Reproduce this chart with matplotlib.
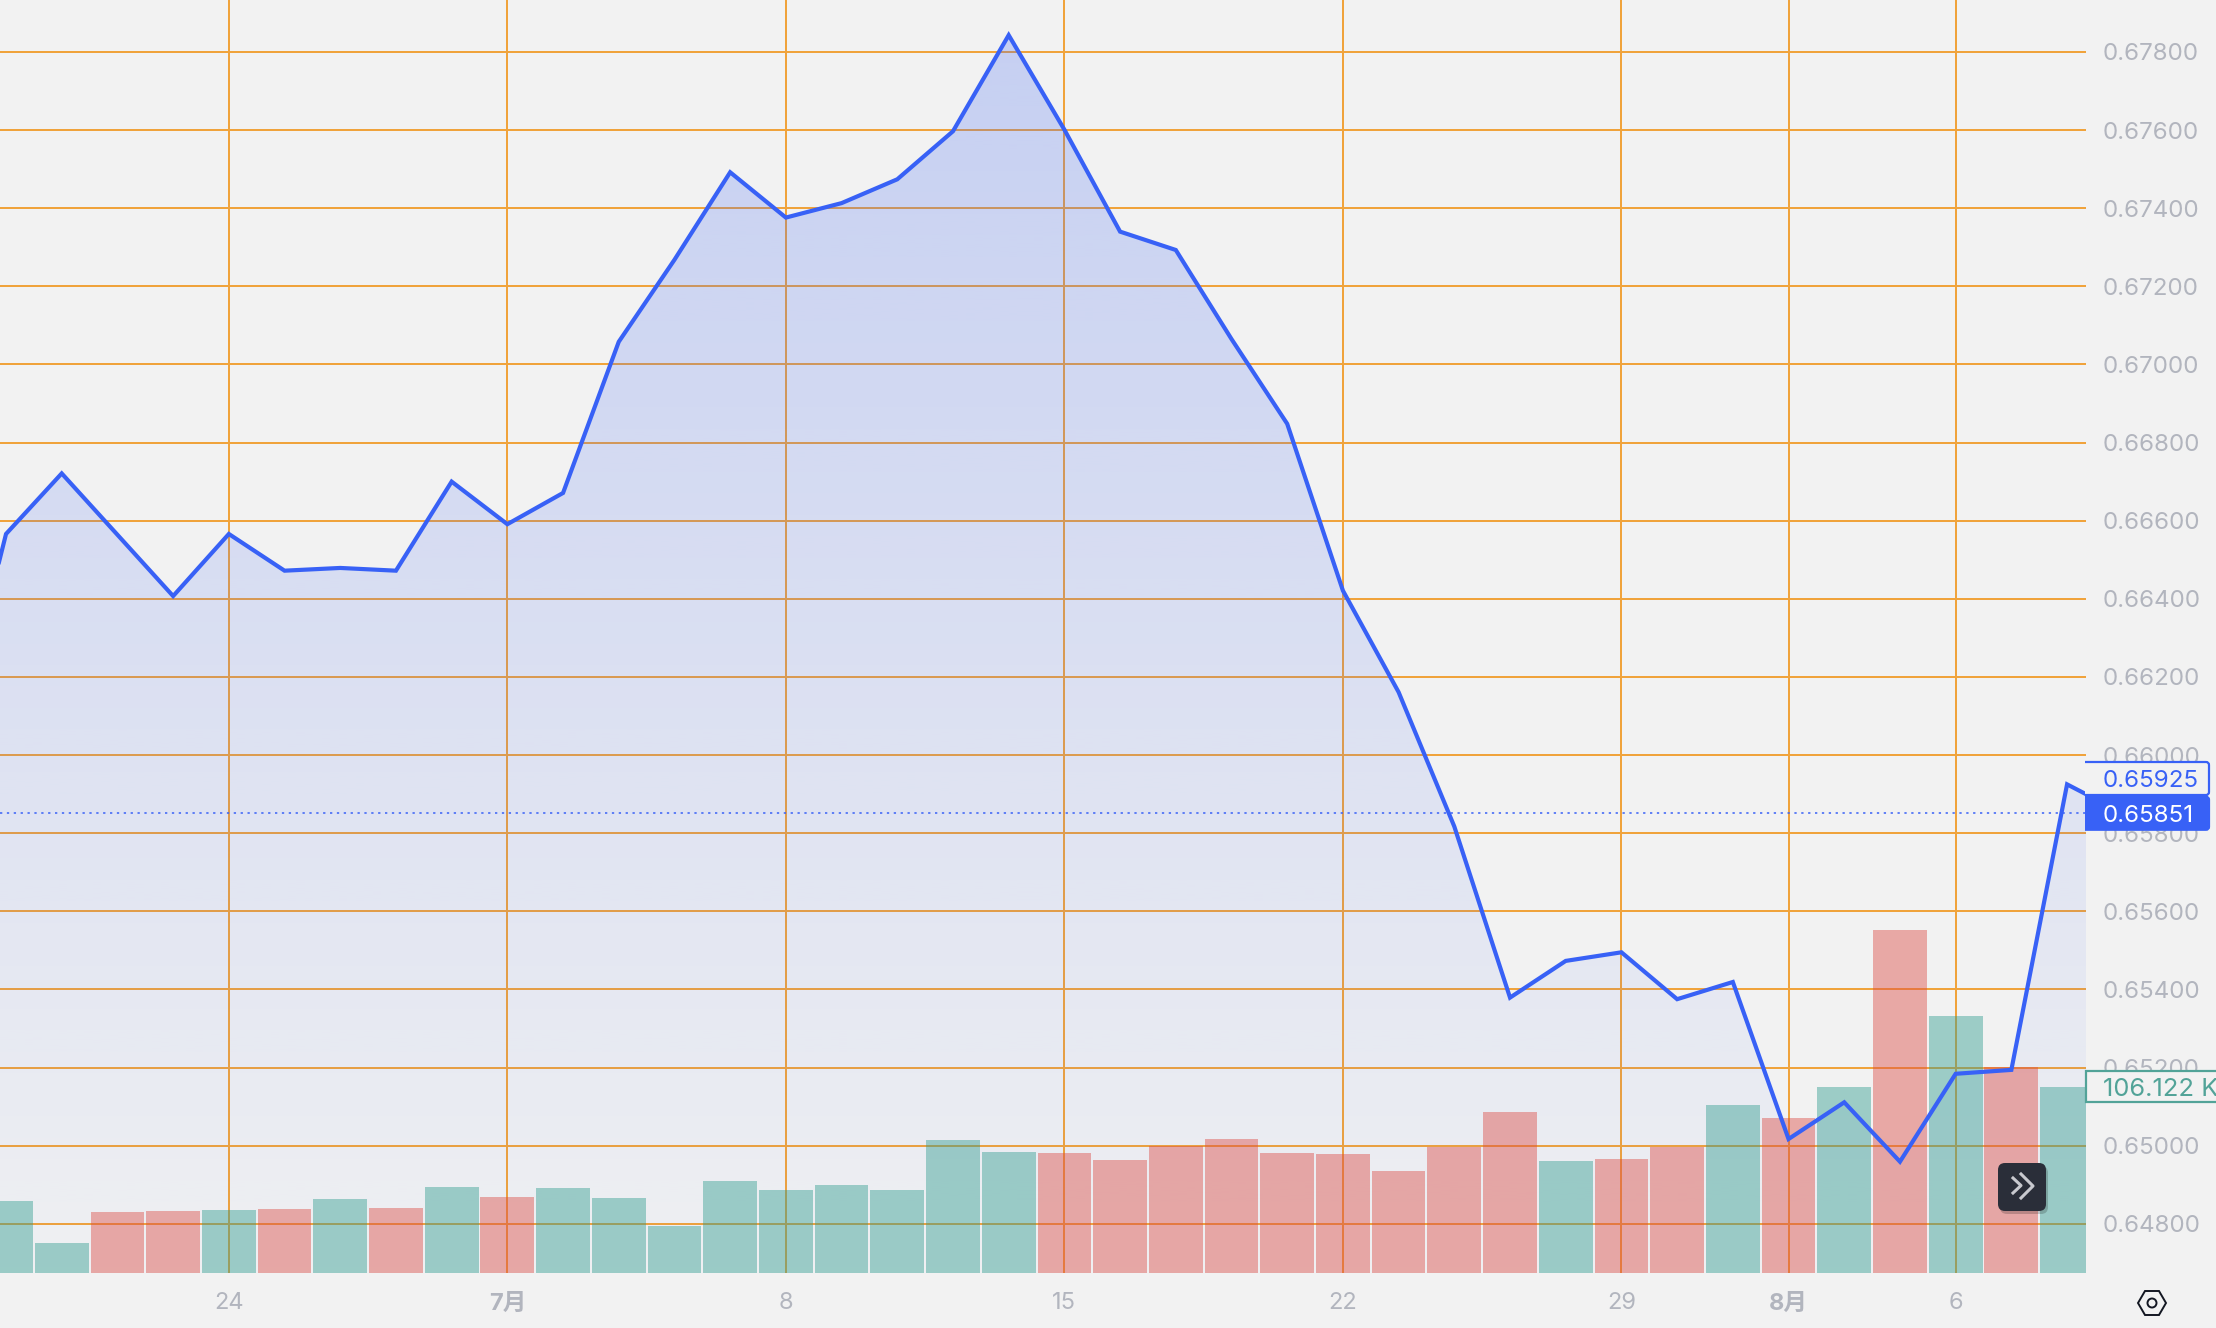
"""AUD/USD style area chart with volume bars, TradingView look."""
import matplotlib
matplotlib.use("Agg")
import matplotlib.pyplot as plt
import numpy as np
from matplotlib.colors import to_rgb
from matplotlib.patches import Circle, FancyBboxPatch, PathPatch, Polygon
from matplotlib.path import Path
from matplotlib.transforms import Bbox, IdentityTransform

W, H = 2216, 1328
PLOT_R, PLOT_B = 2086, 1273
BG, GRID, BLUE, AXIS_TXT = "#f2f2f2", "#f0a33c", "#3861f6", "#b2b5be"
TEAL, RED = "#2f9c8e", "#dc4a44"

plt.rcParams["font.family"] = ["Inter", "Noto Sans CJK JP", "DejaVu Sans"]

# session index, 0 is the "24" tick
first_session = -5
prices = [0.65994, 0.66566, 0.66721, 0.66564, 0.66407, 0.66566, 0.66472, 0.66479,
          0.66472, 0.66700, 0.66591, 0.66671, 0.67058, 0.67268, 0.67492, 0.67376,
          0.67413, 0.67474, 0.67597, 0.67843, 0.67601, 0.67340, 0.67293, 0.67065,
          0.66848, 0.66421, 0.66161, 0.65817, 0.65379, 0.65473, 0.65495, 0.65375,
          0.65419, 0.65017, 0.65111, 0.64959, 0.65184, 0.65194, 0.65925, 0.65851]

# volume in thousands, sessions -4 to 33
volumes = [41, 16.9, 34.6, 35.4, 35.7, 36.2, 42, 37, 49, 43.4, 48.2, 42.6, 26.5,
           52.3, 47.4, 49.8, 47.4, 75.6, 69.1, 68.3, 64.3, 72.4, 76.4, 68.3, 67.5,
           57.9, 71.6, 91.7, 63.5, 65.1, 71.6, 95.7, 88.4, 106.1, 195.4, 146.3,
           117.4, 106.122]
vol_colors = ["G", "G", "R", "R", "G", "R", "G", "R", "G", "R", "G", "G", "G",
              "G", "G", "G", "G", "G", "G", "R", "R", "R", "R", "R", "R",
              "R", "R", "R", "G", "R", "R", "G", "R", "G", "R", "G", "R", "G"]

y_ticks = [0.648, 0.650, 0.652, 0.654, 0.656, 0.658, 0.660, 0.662, 0.664, 0.666,
           0.668, 0.670, 0.672, 0.674, 0.676, 0.678]
x_ticks = [0, 5, 10, 15, 20, 25, 28, 31]
x_labels = ["24", "7月", "8", "15", "22", "29", "8月", "6"]
bold_labels = ["7月", "8月"]

hover_price, last_price, last_volume = 0.65925, 0.65851, "106.122 K"

XLIM = (-4.108, 33.34)
YLIM = (0.64674, 0.67933)
VOL_TOP = 724.4


def py(y):
    return H - y


def tag(fig, yc, text, face, edge, color, x1=2209, h=33, size=8.7):
    # left side of the rounded box is clipped off at the plot edge
    box = FancyBboxPatch((PLOT_R - 8, yc - h / 2), x1 - PLOT_R + 8, h,
                         boxstyle="round,pad=0,rounding_size=3", fc=face, ec=edge, lw=0.8,
                         transform=IdentityTransform(), zorder=10)
    fig.add_artist(box)
    box.set_clip_box(Bbox([[PLOT_R - 1, 0], [W, H]]))
    fig.text(2103 / W, yc / H, text, color=color, fontsize=size, va="center_baseline", ha="left", zorder=11)


def main():
    fig = plt.figure(figsize=(W / 200, H / 200), dpi=200, facecolor=BG)
    rect = [0, (H - PLOT_B) / H, PLOT_R / W, PLOT_B / H]

    # base axes: grid and gradient area
    ax = fig.add_axes(rect, zorder=1, facecolor=BG)
    xs = np.arange(first_session, first_session + len(prices))
    ax.set_axisbelow(True)
    ax.grid(True, color=GRID, lw=0.72)
    ax.set_yticks(y_ticks)
    ax.set_yticklabels([f"{t:.5f}" for t in y_ticks], fontsize=8.7, color=AXIS_TXT)
    ax.yaxis.tick_right()
    ax.set_xticks(x_ticks)
    ax.set_xticklabels(x_labels, fontsize=8.5, color=AXIS_TXT)
    for lab in ax.get_xticklabels():
        if lab.get_text() in bold_labels:
            lab.set_fontweight("bold")
    ax.tick_params(axis="y", length=0, pad=6)
    ax.tick_params(axis="x", length=0, pad=7)
    for s in ax.spines.values():
        s.set_visible(False)

    grad = np.zeros((256, 1, 4))
    grad[..., :3] = to_rgb(BLUE)
    grad[..., 3] = np.linspace(0.24, 0.015, 256)[:, None]
    im = ax.imshow(grad, extent=(xs[0], xs[-1], YLIM[0], max(prices)), origin="upper",
                   aspect="auto", zorder=2, interpolation="bilinear")
    verts = list(zip(xs, prices)) + [(xs[-1], YLIM[0]), (xs[0], YLIM[0])]
    clip = PathPatch(Path(verts + [verts[0]], closed=True), transform=ax.transData, fc="none", ec="none")
    ax.add_patch(clip)
    im.set_clip_path(clip)
    ax.set_xlim(*XLIM)
    ax.set_ylim(*YLIM)

    # volume bars
    vol = fig.add_axes(rect, zorder=2, facecolor="none")
    vx = xs[1:1 + len(volumes)]
    cols = [TEAL if c == "G" else RED for c in vol_colors]
    vol.bar(vx, volumes, width=0.965, color=cols, alpha=0.44, lw=0)
    vol.set_xlim(*XLIM)
    vol.set_ylim(0, VOL_TOP)
    vol.axis("off")

    # price line
    top = fig.add_axes(rect, zorder=3, facecolor="none")
    top.plot(xs, prices, color=BLUE, lw=1.5, solid_joinstyle="miter")
    top.axhline(last_price, color=BLUE, lw=0.55, ls=(0, (1.5, 3)))
    top.set_xlim(*XLIM)
    top.set_ylim(*YLIM)
    top.axis("off")

    fig.canvas.draw()

    # price and volume tags on the right axis
    tag(fig, py(778.5), f"{hover_price:.5f}", BG, BLUE, BLUE)
    tag(fig, top.transData.transform((0, last_price))[1], f"{last_price:.5f}", BLUE, BLUE, "white")
    yc = vol.transData.transform((0, 106.122))[1]
    green = FancyBboxPatch((PLOT_R, yc - 15.5), 160, 31, boxstyle="square,pad=0", fc=BG, ec="#52a398", lw=0.8,
                           transform=IdentityTransform(), zorder=10)
    fig.add_artist(green)
    fig.text(2103 / W, yc / H, last_volume, color="#52a398", fontsize=9.2, va="center_baseline", zorder=11)

    # scroll-to-latest button
    shadow = FancyBboxPatch((2000, py(1214)), 48, 48, boxstyle="round,pad=0,rounding_size=7", fc="#00000030",
                            ec="none", transform=IdentityTransform(), zorder=12)
    fig.add_artist(shadow)
    btn = FancyBboxPatch((1998, py(1211)), 48, 48, boxstyle="round,pad=0,rounding_size=7", fc="#2a2e39",
                         ec="none", transform=IdentityTransform(), zorder=13)
    fig.add_artist(btn)
    for x0, x1, y0, y1 in [(2013, 2021, 1178, 1193), (2021, 2033, 1174, 1198)]:
        fig.add_artist(plt.Line2D([x0, x1, x0], [py(y0), py((y0 + y1) / 2), py(y1)], color="#c8c9cf", lw=1.1,
                                  transform=IdentityTransform(), zorder=14))

    # settings hexagon
    cx, cy = 2152, py(1303)
    hexagon = Polygon([(cx - 14, cy), (cx - 7, cy + 12), (cx + 7, cy + 12), (cx + 14, cy), (cx + 7, cy - 12),
                       (cx - 7, cy - 12)], closed=True, fc="none", ec="#131722", lw=0.7,
                      transform=IdentityTransform(), zorder=12)
    fig.add_artist(hexagon)
    fig.add_artist(Circle((cx, cy), 4.5, fc="none", ec="#131722", lw=0.7, transform=IdentityTransform(), zorder=12))

    fig.savefig("out.png", dpi=200, facecolor=BG)
    plt.close(fig)


if __name__ == "__main__":
    main()
